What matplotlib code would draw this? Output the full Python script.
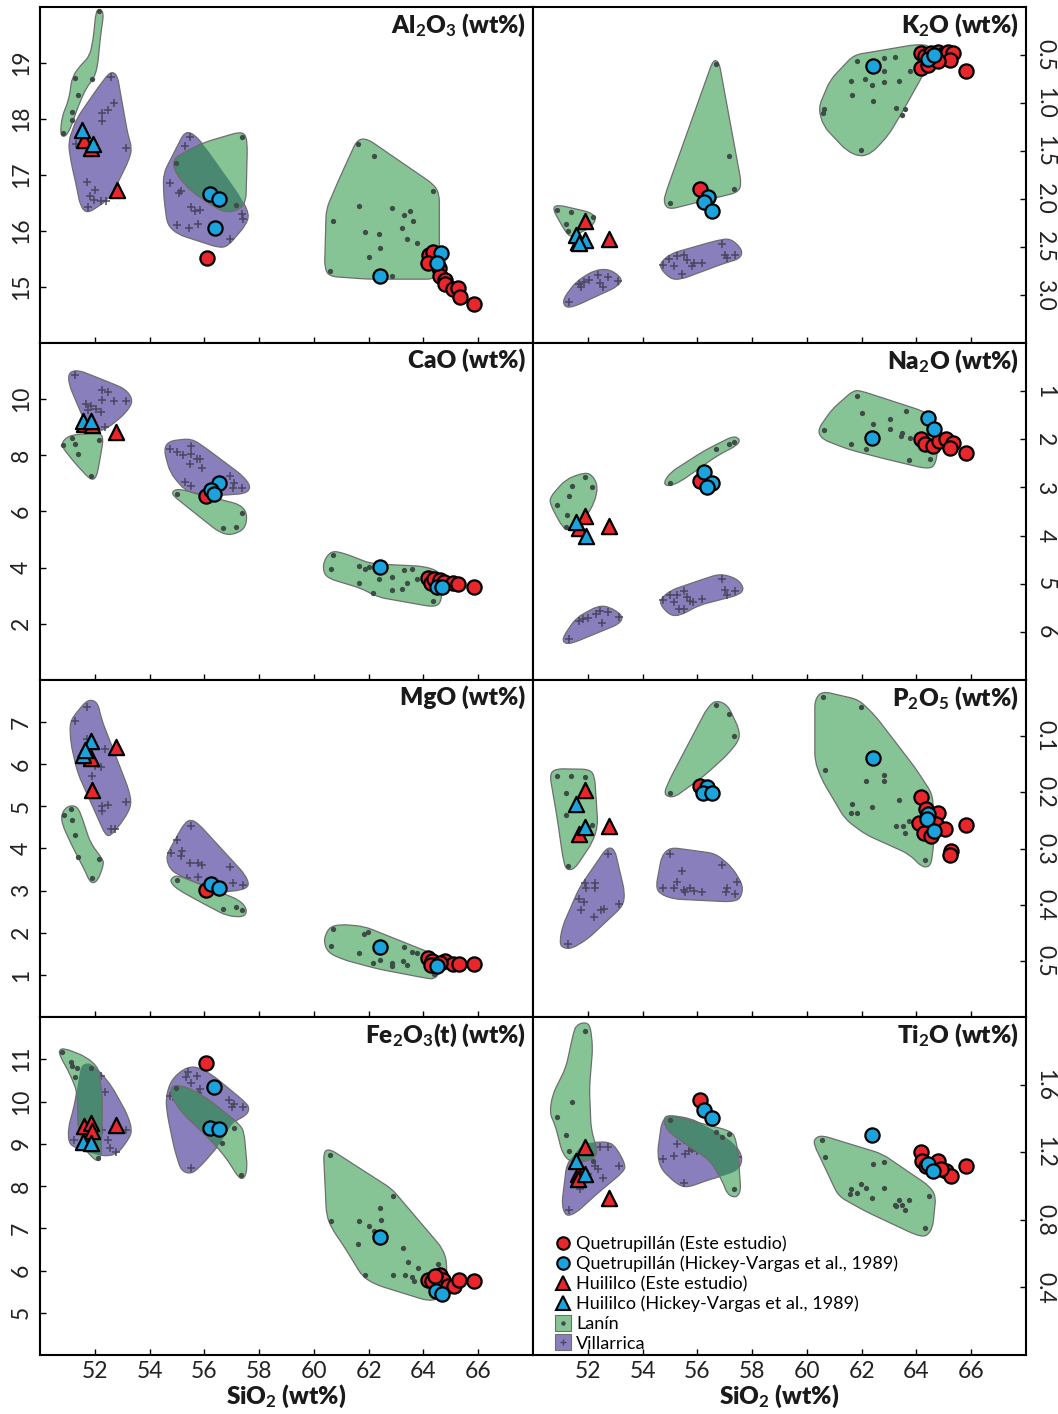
import numpy as np
import matplotlib
matplotlib.use('Agg')
import matplotlib.pyplot as plt
from matplotlib.path import Path
from matplotlib.patches import PathPatch
from matplotlib.lines import Line2D
from matplotlib.legend_handler import HandlerTuple

plt.rcParams['font.family'] = ['Lato', 'DejaVu Sans']
# math parts (subscripts) only appear in bold labels
plt.rcParams['mathtext.fontset'] = 'custom'
plt.rcParams['mathtext.rm'] = 'Lato:bold'
plt.rcParams['mathtext.it'] = 'Lato:bold'
plt.rcParams['mathtext.bf'] = 'Lato:bold'
plt.rcParams['mathtext.default'] = 'rm'

RED = '#e8262b'
BLUE = '#1aa3dc'
GREEN = '#86c495'
PURPLE = '#8a7fbd'
OVERLAP = '#4a8872'
EDGE = '#6e6e6e'

# ---------------- Al2O3 ----------------
al_lanin_fields = [
    [(50.74, 17.71), (50.80, 18.04), (51.05, 18.34), (51.18, 18.76), (51.50, 18.97), (51.81, 19.12),
     (51.94, 19.42), (52.04, 19.90), (52.15, 19.97), (52.33, 19.90), (52.21, 19.48), (52.10, 18.94),
     (51.97, 18.73), (51.68, 18.55), (51.34, 18.16), (51.14, 17.86), (50.93, 17.68)],
    [(54.84, 17.27), (55.28, 17.41), (56.04, 17.59), (57.30, 17.77), (57.52, 17.71), (57.57, 17.50),
     (57.52, 16.54), (57.30, 16.39), (56.86, 16.33), (56.42, 16.41), (55.53, 16.71), (54.96, 17.02)],
    [(60.45, 16.39), (60.95, 16.96), (61.58, 17.63), (61.94, 17.65), (64.38, 16.83), (64.58, 16.66),
     (64.58, 15.25), (64.38, 15.14), (61.96, 15.14), (60.57, 15.19), (60.39, 15.34)],
]
al_lanin = [(52.15, 19.92), (51.27, 18.73), (51.90, 18.72), (51.39, 18.43), (51.18, 18.13), (51.18, 17.98),
            (50.84, 17.75), (54.96, 17.22), (57.36, 17.68), (57.17, 16.46), (61.62, 17.55), (62.18, 17.34),
            (64.36, 16.72), (61.65, 16.45), (62.85, 16.41), (63.29, 16.29), (63.51, 16.36), (63.63, 16.18),
            (60.68, 16.18), (61.86, 15.98), (62.37, 15.95), (63.22, 16.06), (63.41, 15.86), (63.77, 15.79),
            (62.43, 15.69), (62.00, 15.53), (60.57, 15.29), (62.85, 15.20)]
al_villa_fields = [
    [(52.57, 18.85), (52.82, 18.79), (53.20, 17.74), (53.36, 17.47), (53.24, 17.26), (52.76, 16.78),
     (52.44, 16.54), (51.72, 16.31), (51.47, 16.45), (51.34, 16.78), (51.12, 17.26), (51.03, 17.59),
     (51.34, 18.01), (52.13, 18.57)],
    [(55.28, 17.77), (55.60, 17.74), (56.04, 17.50), (57.30, 16.63), (57.64, 16.30), (57.52, 16.11),
     (56.86, 15.73), (56.54, 15.70), (55.03, 15.94), (54.65, 16.11), (54.52, 16.60), (54.50, 17.02),
     (54.84, 17.35)],
]
al_villa = [(52.58, 18.75), (52.72, 18.29), (52.50, 18.16), (52.25, 18.11), (52.28, 17.97), (53.13, 17.49),
            (51.31, 17.55), (51.70, 16.87), (52.00, 16.73), (51.81, 16.63), (51.97, 16.55), (52.23, 16.54),
            (52.40, 16.53), (51.77, 16.43), (55.47, 17.68), (55.28, 17.52), (55.76, 17.25), (56.16, 17.08),
            (55.49, 17.02), (54.75, 16.86), (55.15, 16.72), (55.09, 16.67), (55.53, 16.43), (55.66, 16.35),
            (55.85, 16.37), (55.76, 16.13), (55.43, 16.06), (55.00, 16.11), (56.94, 15.86), (57.37, 16.31),
            (57.40, 16.21)]
al_qe = [(56.10, 15.52), (64.21, 15.58), (64.34, 15.62), (64.17, 15.43), (64.55, 15.34), (64.61, 15.20),
         (64.80, 15.13), (64.77, 15.05), (65.09, 14.96), (65.27, 14.98), (65.34, 14.83), (65.85, 14.69)]
al_qh = [(56.22, 16.66), (56.54, 16.58), (56.38, 16.05), (62.43, 15.20), (64.65, 15.61), (64.49, 15.43)]
al_he = [(51.60, 17.62), (51.88, 17.48), (52.80, 16.73)]
al_hh = [(51.53, 17.80), (51.92, 17.56)]

# ---------------- K2O ----------------
k_lanin_fields = [
    [(60.42, 1.05), (60.85, 0.76), (61.71, 0.50), (62.75, 0.45), (63.98, 0.39), (64.49, 0.40), (64.59, 0.52),
     (64.10, 0.78), (63.49, 1.09), (62.99, 1.33), (62.38, 1.52), (61.95, 1.56), (61.46, 1.50), (60.60, 1.24)],
    [(56.58, 0.55), (56.79, 0.57), (57.61, 1.84), (57.49, 1.93), (54.95, 2.11), (54.76, 2.03), (54.89, 1.90)],
    [(50.71, 2.10), (50.89, 2.06), (52.12, 2.14), (52.31, 2.21), (52.12, 2.29), (51.42, 2.40), (51.20, 2.35)],
]
k_lanin = [(61.83, 0.56), (62.81, 0.53), (63.22, 0.52), (63.77, 0.67), (61.62, 0.77), (62.13, 0.75),
           (62.36, 0.81), (62.81, 0.78), (63.36, 0.77), (62.81, 0.67), (61.64, 0.92), (62.41, 0.98),
           (60.64, 1.06), (60.60, 1.10), (63.24, 1.05), (63.58, 1.06), (63.49, 1.12), (61.99, 1.49),
           (56.68, 0.59), (57.14, 1.55), (57.34, 1.90), (54.99, 2.04), (50.86, 2.11), (51.40, 2.14),
           (52.18, 2.19), (51.20, 2.26), (51.26, 2.33)]
k_villa_fields = [
    [(51.08, 3.05), (51.57, 2.86), (52.25, 2.74), (52.80, 2.73), (53.27, 2.83), (53.10, 2.91), (51.51, 3.12),
     (51.18, 3.13)],
    [(54.56, 2.69), (55.01, 2.57), (56.73, 2.43), (57.22, 2.41), (57.65, 2.53), (57.57, 2.62), (56.98, 2.67),
     (55.38, 2.84), (54.99, 2.83)],
]
k_villa = [(51.30, 3.07), (51.69, 2.89), (51.88, 2.86), (52.06, 2.84), (52.37, 2.79), (52.43, 2.88),
           (52.74, 2.81), (53.11, 2.85), (51.75, 2.92), (52.55, 2.92), (54.76, 2.69), (55.13, 2.70),
           (54.95, 2.62), (55.26, 2.59), (55.50, 2.58), (55.62, 2.64), (55.81, 2.70), (55.89, 2.67),
           (56.18, 2.67), (55.44, 2.78), (56.91, 2.47), (57.00, 2.58), (57.37, 2.58), (57.10, 2.61)]
k_qe = [(56.09, 1.90), (64.16, 0.48), (64.32, 0.51), (64.53, 0.48), (64.78, 0.47), (64.99, 0.49),
        (65.17, 0.47), (65.35, 0.48), (65.23, 0.55), (64.16, 0.64), (64.41, 0.60), (64.78, 0.56), (65.80, 0.67)]
k_qh = [(56.40, 1.98), (56.24, 2.03), (56.55, 2.13), (62.41, 0.61), (64.44, 0.54), (64.65, 0.50)]
k_he = [(51.63, 2.45), (51.91, 2.23), (52.77, 2.42)]
k_hh = [(51.57, 2.37), (51.91, 2.43), (51.67, 2.46)]

# ---------------- CaO ----------------
ca_lanin_fields = [
    [(50.74, 8.39), (51.05, 8.71), (52.15, 8.81), (52.32, 8.63), (52.19, 7.86), (52.06, 7.20), (51.85, 7.12),
     (51.24, 7.76)],
    [(54.77, 6.64), (55.00, 6.82), (57.30, 6.25), (57.57, 5.93), (57.49, 5.38), (56.98, 5.15), (56.54, 5.26),
     (55.34, 6.19)],
    [(60.35, 4.23), (60.64, 4.60), (61.08, 4.52), (62.09, 4.14), (63.98, 4.05), (64.51, 3.90), (64.71, 3.60),
     (64.64, 2.74), (64.36, 2.60), (62.34, 2.95), (61.71, 3.27), (60.58, 3.60), (60.35, 3.81)],
]
ca_lanin = [(50.84, 8.36), (51.18, 8.61), (51.27, 8.42), (51.39, 8.05), (52.15, 8.55), (51.87, 7.26),
            (54.99, 6.64), (57.36, 5.95), (56.69, 5.42), (57.14, 5.45), (60.68, 4.44), (60.61, 3.95),
            (61.65, 4.07), (61.87, 3.95), (62.03, 4.01), (62.37, 3.60), (62.85, 3.67), (63.29, 3.93),
            (63.60, 3.95), (63.75, 3.60), (61.65, 3.45), (62.15, 3.10), (62.85, 3.19), (63.22, 3.24),
            (64.36, 2.80), (63.39, 3.45)]
ca_villa_fields = [
    [(51.05, 10.95), (51.39, 11.04), (52.25, 10.71), (53.13, 10.36), (53.41, 9.94), (53.13, 9.50), (52.50, 8.99),
     (52.03, 8.81), (51.77, 8.93), (51.50, 9.50), (51.05, 10.54)],
    [(54.52, 8.21), (54.71, 8.51), (55.53, 8.60), (56.04, 8.27), (57.42, 7.26), (57.70, 6.88), (57.52, 6.64),
     (56.54, 6.57), (55.78, 6.57), (55.28, 6.76), (54.75, 7.38)],
]
ca_villa = [(51.27, 10.86), (52.25, 10.33), (52.50, 10.27), (52.28, 9.96), (52.71, 9.94), (53.13, 9.94),
            (51.68, 9.82), (51.87, 9.76), (52.06, 9.64), (52.23, 9.55), (51.77, 9.60), (52.38, 9.01),
            (54.75, 8.21), (55.00, 8.12), (55.22, 8.02), (55.53, 8.33), (55.53, 8.04), (55.72, 7.88),
            (55.85, 7.88), (55.49, 7.69), (55.91, 7.56), (55.28, 7.05), (55.50, 6.90), (56.92, 7.26),
            (57.07, 7.00), (57.36, 6.85), (57.04, 6.85)]
ca_qe = [(56.07, 6.55), (64.17, 3.63), (64.26, 3.45), (64.38, 3.60), (64.59, 3.55), (64.76, 3.48),
         (65.09, 3.45), (65.27, 3.42), (65.85, 3.31)]
ca_qh = [(56.54, 7.00), (56.26, 6.75), (56.35, 6.62), (62.43, 4.01), (64.49, 3.31), (64.67, 3.31)]
ca_he = [(51.60, 9.10), (51.90, 9.07), (52.78, 8.83)]
ca_hh = [(51.56, 9.23), (51.87, 9.23)]

# ---------------- Na2O ----------------
na_lanin_fields = [
    [(60.39, 1.81), (60.91, 1.38), (61.71, 0.98), (62.01, 1.00), (64.22, 1.41), (64.69, 1.57), (64.78, 2.28),
     (64.65, 2.57), (64.35, 2.61), (62.87, 2.41), (61.52, 2.21), (60.56, 2.00)],
    [(54.76, 2.91), (55.01, 2.69), (56.24, 2.24), (57.32, 1.93), (57.56, 2.00), (57.47, 2.12), (56.73, 2.34),
     (55.38, 2.88), (54.95, 2.98)],
    [(50.61, 3.21), (51.20, 2.83), (51.88, 2.69), (52.16, 2.74), (52.37, 2.97), (52.25, 3.31), (51.88, 3.66),
     (51.32, 3.90), (51.08, 3.83), (50.65, 3.38)],
]
na_lanin = [(61.83, 1.10), (62.01, 1.46), (63.05, 1.57), (63.63, 1.41), (62.41, 1.69), (63.05, 1.79),
            (63.47, 1.86), (63.43, 1.94), (63.76, 1.97), (60.64, 1.81), (61.62, 2.09), (62.17, 2.21),
            (63.73, 2.43), (64.49, 2.41), (55.01, 2.90), (56.69, 2.21), (57.14, 2.09), (57.34, 2.06),
            (51.91, 2.79), (51.41, 2.98), (52.16, 3.00), (51.30, 3.17), (50.87, 3.36), (51.23, 3.57),
            (51.20, 3.83)]
na_villa_fields = [
    [(51.08, 6.12), (51.57, 5.71), (52.37, 5.46), (52.80, 5.48), (53.29, 5.67), (53.17, 5.83), (51.42, 6.24),
     (51.14, 6.24)],
    [(54.56, 5.37), (55.01, 5.14), (56.24, 4.90), (56.85, 4.79), (57.47, 4.90), (57.71, 5.10), (57.53, 5.23),
     (56.05, 5.45), (55.38, 5.66), (54.99, 5.66)],
]
na_villa = [(51.30, 6.14), (51.69, 5.78), (51.82, 5.74), (52.00, 5.72), (52.31, 5.62), (52.43, 5.57),
            (52.53, 5.81), (52.74, 5.59), (53.14, 5.70), (54.76, 5.34), (55.13, 5.39), (55.01, 5.24),
            (55.26, 5.23), (55.53, 5.15), (55.62, 5.28), (55.85, 5.38), (56.18, 5.32), (55.32, 5.53),
            (55.50, 5.53), (56.91, 4.91), (57.00, 5.14), (57.10, 5.24), (57.37, 5.16), (55.75, 5.35)]
na_qe = [(56.09, 2.86), (64.16, 2.00), (64.32, 2.10), (64.62, 2.14), (64.81, 2.03), (65.08, 2.00),
         (65.33, 2.08), (65.23, 2.19), (65.80, 2.28)]
na_qh = [(56.24, 2.68), (56.55, 2.90), (56.36, 3.00), (62.38, 1.97), (64.41, 1.55), (64.65, 1.79)]
na_he = [(51.67, 3.85), (51.91, 3.59), (52.77, 3.81)]
na_hh = [(51.57, 3.72), (51.94, 4.00)]

# ---------------- MgO ----------------
mg_lanin_fields = [
    [(50.78, 4.83), (51.03, 5.02), (51.37, 5.00), (51.56, 4.69), (51.84, 4.13), (52.25, 3.78), (52.34, 3.64),
     (52.10, 3.22), (51.85, 3.17), (51.62, 3.50), (51.18, 4.05), (50.81, 4.57)],
    [(54.77, 3.28), (55.00, 3.37), (56.04, 3.10), (57.30, 2.77), (57.57, 2.55), (57.45, 2.37), (56.82, 2.40),
     (55.91, 2.71), (55.05, 3.02), (54.80, 3.17)],
    [(60.35, 1.82), (60.55, 2.13), (60.98, 2.20), (61.84, 2.15), (64.23, 1.53), (64.61, 1.36), (64.58, 1.03),
     (64.38, 0.90), (64.11, 0.92), (62.34, 1.14), (61.08, 1.36), (60.51, 1.53)],
]
mg_lanin = [(50.88, 4.79), (51.15, 4.93), (51.18, 4.67), (51.27, 4.31), (51.39, 3.80), (52.15, 3.74),
            (51.90, 3.29), (55.00, 3.26), (56.69, 2.56), (57.14, 2.61), (57.36, 2.53), (60.68, 2.09),
            (60.61, 1.68), (61.84, 1.98), (61.99, 2.01), (61.65, 1.53), (62.15, 1.28), (62.43, 1.36),
            (62.85, 1.29), (62.85, 1.20), (63.29, 1.67), (63.58, 1.55), (63.77, 1.51), (63.39, 1.24),
            (63.26, 1.34), (64.38, 1.01)]
mg_villa_fields = [
    [(51.09, 7.00), (51.37, 7.26), (51.75, 7.54), (52.10, 7.48), (52.25, 7.06), (53.24, 5.40), (53.35, 5.04),
     (53.07, 4.69), (52.57, 4.29), (52.38, 4.33), (52.03, 4.84), (51.37, 5.80), (51.12, 6.51)],
    [(54.59, 3.81), (55.28, 4.61), (55.53, 4.69), (55.81, 4.57), (57.49, 3.38), (57.65, 3.12), (57.36, 3.01),
     (56.54, 2.96), (55.15, 3.34), (54.75, 3.50)],
]
mg_villa = [(51.72, 7.36), (51.27, 7.02), (51.72, 6.60), (51.62, 6.31), (51.81, 6.11), (52.00, 5.97),
            (52.23, 5.94), (51.90, 5.72), (52.38, 6.37), (52.25, 5.00), (52.48, 5.04), (52.28, 4.88),
            (53.13, 5.10), (52.61, 4.46), (52.73, 4.46), (55.53, 4.53), (55.00, 4.20), (54.79, 3.90),
            (55.19, 3.95), (55.15, 3.83), (55.47, 3.66), (55.76, 3.66), (55.91, 3.62), (56.92, 3.56),
            (55.38, 3.29), (55.76, 3.33), (57.04, 3.18), (57.42, 3.13)]
mg_qe = [(56.07, 3.01), (64.17, 1.40), (64.33, 1.32), (64.29, 1.24), (64.80, 1.32), (65.09, 1.26),
         (65.28, 1.26), (65.85, 1.26), (64.61, 1.29)]
mg_qh = [(56.26, 3.16), (56.54, 3.06), (62.43, 1.65), (64.49, 1.22)]
mg_he = [(51.85, 6.15), (52.78, 6.41), (51.90, 5.40)]
mg_hh = [(51.87, 6.55), (51.56, 6.23), (51.65, 6.35)]

# ---------------- P2O5 ----------------
p_lanin_fields = [
    [(60.29, 0.035), (60.56, 0.020), (61.89, 0.035), (62.50, 0.064), (63.98, 0.158), (64.59, 0.204),
     (64.65, 0.284), (64.53, 0.331), (64.22, 0.334), (63.73, 0.310), (62.14, 0.275), (61.40, 0.248),
     (60.54, 0.177), (60.29, 0.144)],
    [(54.76, 0.204), (54.99, 0.177), (56.36, 0.050), (56.67, 0.036), (57.10, 0.044), (57.53, 0.088),
     (57.53, 0.107), (57.10, 0.133), (56.24, 0.171), (55.13, 0.210)],
    [(50.61, 0.168), (50.83, 0.158), (52.06, 0.159), (52.25, 0.171), (52.37, 0.260), (52.16, 0.290),
     (51.51, 0.337), (51.20, 0.338), (51.08, 0.313), (50.89, 0.248)],
]
p_lanin = [(60.58, 0.030), (61.98, 0.048), (60.66, 0.160), (62.41, 0.147), (62.81, 0.170), (62.81, 0.180),
           (62.14, 0.180), (61.64, 0.220), (62.36, 0.226), (61.62, 0.237), (61.83, 0.237), (63.36, 0.214),
           (63.73, 0.251), (63.24, 0.260), (63.51, 0.260), (63.58, 0.272), (64.32, 0.320), (56.68, 0.045),
           (57.14, 0.060), (57.34, 0.100), (54.99, 0.201), (50.86, 0.171), (51.40, 0.171), (51.90, 0.173),
           (51.20, 0.202), (51.20, 0.240), (52.15, 0.259), (51.29, 0.331)]
p_villa_fields = [
    [(50.98, 0.464), (51.08, 0.438), (51.69, 0.370), (52.70, 0.298), (52.98, 0.301), (53.35, 0.378),
     (53.29, 0.402), (52.00, 0.461), (51.39, 0.479), (51.04, 0.476)],
    [(54.49, 0.368), (54.70, 0.313), (55.01, 0.298), (56.67, 0.309), (57.28, 0.334), (57.68, 0.367),
     (57.57, 0.390), (57.22, 0.395), (55.13, 0.390), (54.64, 0.381)],
]
p_villa = [(52.74, 0.310), (51.91, 0.362), (52.25, 0.361), (51.94, 0.370), (52.25, 0.371), (51.69, 0.390),
           (51.87, 0.395), (51.75, 0.410), (52.47, 0.409), (52.58, 0.408), (52.21, 0.422), (53.13, 0.399),
           (51.29, 0.470), (54.99, 0.310), (55.44, 0.340), (55.26, 0.359), (54.76, 0.370), (55.13, 0.371),
           (55.50, 0.373), (55.72, 0.370), (55.87, 0.375), (55.56, 0.378), (56.18, 0.377), (56.91, 0.330),
           (57.44, 0.359), (57.07, 0.370), (57.37, 0.381), (57.04, 0.378)]
p_qe = [(56.09, 0.188), (64.16, 0.208), (64.35, 0.229), (64.78, 0.237), (64.10, 0.255), (64.28, 0.272),
        (64.71, 0.257), (65.06, 0.266), (65.80, 0.258), (65.27, 0.304), (65.21, 0.311), (64.53, 0.277)]
p_qh = [(56.36, 0.190), (56.21, 0.201), (56.55, 0.201), (62.41, 0.139), (64.44, 0.239), (64.40, 0.248),
        (64.65, 0.269)]
p_he = [(51.91, 0.195), (52.77, 0.260), (51.67, 0.275)]
p_hh = [(51.57, 0.221), (51.91, 0.261)]

# ---------------- Fe2O3(t) ----------------
fe_lanin_fields = [
    [(50.69, 11.22), (50.89, 11.26), (51.68, 11.06), (52.15, 10.79), (52.28, 10.00), (52.25, 9.29),
     (52.23, 8.70), (52.10, 8.58), (51.87, 8.70), (51.68, 8.85), (51.39, 9.37), (51.36, 10.23),
     (51.05, 10.71), (50.74, 11.06)],
    [(54.77, 10.30), (54.96, 10.40), (55.59, 10.28), (56.29, 9.98), (57.30, 9.45), (57.45, 9.27),
     (57.57, 8.42), (57.46, 8.18), (57.27, 8.18), (56.80, 8.66), (56.29, 9.05), (55.15, 9.76), (54.81, 10.11)],
    [(60.35, 8.80), (60.57, 8.88), (62.85, 7.93), (63.19, 7.67), (64.70, 6.52), (64.87, 6.17), (64.80, 5.74),
     (64.55, 5.33), (64.17, 5.28), (62.28, 5.66), (61.78, 5.85), (61.15, 6.52), (60.65, 7.00), (60.46, 7.31)],
]
fe_lanin = [(50.79, 11.17), (51.13, 10.94), (51.17, 10.85), (51.34, 10.80), (51.26, 10.59), (51.85, 10.80),
            (52.13, 8.67), (54.96, 10.31), (57.10, 9.37), (56.66, 9.02), (57.33, 8.26), (60.57, 8.73),
            (62.88, 7.76), (62.40, 7.47), (62.46, 7.20), (60.64, 7.18), (61.66, 7.17), (62.00, 7.05),
            (62.20, 6.93), (61.61, 6.63), (63.26, 6.54), (63.42, 6.19), (63.80, 6.07), (64.52, 6.15),
            (61.88, 5.90), (62.88, 5.90), (63.31, 5.90), (63.60, 5.84), (63.66, 5.76)]
fe_villa_fields = [
    [(51.50, 10.87), (51.85, 10.92), (52.23, 10.67), (52.63, 10.35), (53.20, 9.68), (53.36, 9.33),
     (53.26, 9.13), (52.82, 8.75), (52.25, 8.70), (51.34, 8.89), (51.05, 9.01), (51.03, 9.37), (51.26, 9.92)],
    [(54.59, 10.09), (54.79, 10.51), (55.28, 10.79), (55.72, 10.83), (56.29, 10.63), (57.45, 10.01),
     (57.65, 9.86), (57.55, 9.68), (57.04, 9.51), (56.54, 8.97), (55.91, 8.50), (55.53, 8.28),
     (55.15, 8.36), (54.90, 8.89), (54.65, 9.68)],
]
fe_villa = [(51.85, 10.69), (52.00, 10.63), (52.23, 10.61), (52.00, 10.53), (52.38, 10.22), (51.90, 9.70),
            (51.24, 9.09), (52.48, 9.09), (52.57, 8.89), (52.76, 8.81), (53.13, 9.33), (52.25, 9.33),
            (51.68, 10.04), (55.40, 10.70), (55.72, 10.61), (55.34, 10.57), (55.53, 10.44), (55.85, 10.29),
            (55.78, 10.21), (54.74, 10.12), (54.96, 10.04), (55.25, 9.98), (55.50, 9.60), (56.89, 10.04),
            (57.07, 9.93), (57.02, 9.88), (57.42, 9.88), (55.50, 8.42)]
fe_qe = [(56.07, 10.92), (64.17, 5.78), (64.33, 5.74), (64.61, 5.89), (64.73, 5.78), (64.90, 5.64),
         (65.11, 5.64), (65.28, 5.78), (65.85, 5.74), (64.42, 5.88)]
fe_qh = [(56.35, 10.35), (56.22, 9.37), (56.54, 9.36), (62.43, 6.80), (64.47, 5.51), (64.68, 5.44)]
fe_he = [(51.62, 9.42), (51.85, 9.48), (51.90, 9.29), (52.78, 9.45)]
fe_hh = [(51.56, 9.03), (51.87, 9.01)]

# ---------------- TiO2 ----------------
ti_lanin_fields = [
    [(51.57, 1.95), (51.88, 1.97), (52.09, 1.95), (52.18, 1.82), (52.06, 1.58), (52.12, 1.34), (52.37, 1.19),
     (52.06, 1.15), (51.39, 1.14), (51.08, 1.19), (50.81, 1.36), (50.61, 1.43), (50.71, 1.54), (51.20, 1.70),
     (51.47, 1.90)],
    [(54.76, 1.40), (54.95, 1.42), (57.12, 1.33), (57.37, 1.30), (57.49, 1.19), (57.59, 0.97), (57.41, 0.93),
     (57.10, 0.95), (56.91, 1.03), (56.48, 1.15), (55.38, 1.27), (54.89, 1.33)],
    [(60.27, 1.28), (60.54, 1.30), (62.75, 1.19), (64.47, 1.00), (64.71, 0.94), (64.59, 0.75), (64.35, 0.70),
     (63.98, 0.71), (62.14, 0.85), (61.15, 0.94), (60.54, 1.15), (60.27, 1.24)],
]
ti_lanin = [(51.90, 1.92), (51.41, 1.50), (50.87, 1.41), (51.20, 1.30), (51.30, 1.21), (52.18, 1.15),
            (54.99, 1.39), (56.69, 1.32), (57.14, 1.31), (57.34, 0.98), (56.91, 1.29), (60.56, 1.27),
            (60.66, 1.17), (62.41, 1.13), (62.81, 1.14), (61.62, 0.98), (61.58, 0.95), (61.83, 0.96),
            (61.99, 1.01), (62.14, 0.99), (62.36, 0.93), (62.81, 0.99), (63.20, 0.89), (63.36, 0.92),
            (63.49, 0.89), (63.58, 0.86), (63.73, 0.92), (63.24, 0.88), (64.47, 0.94), (64.32, 0.75)]
ti_villa_fields = [
    [(51.05, 0.89), (51.23, 1.13), (51.82, 1.25), (52.31, 1.26), (52.80, 1.26), (53.07, 1.22), (53.39, 1.12),
     (53.27, 1.08), (52.31, 0.95), (51.57, 0.84), (51.20, 0.82)],
    [(54.54, 1.19), (54.70, 1.38), (54.95, 1.42), (55.75, 1.40), (56.73, 1.32), (57.37, 1.25), (57.66, 1.17),
     (57.53, 1.10), (57.16, 1.07), (56.48, 1.04), (55.62, 0.99), (55.26, 1.01), (54.67, 1.10)],
]
ti_villa = [(52.43, 1.23), (52.74, 1.23), (51.75, 1.15), (52.28, 1.12), (52.37, 1.10), (52.55, 1.05),
            (53.14, 1.12), (51.72, 0.98), (51.30, 0.86), (52.00, 1.07), (51.69, 1.03), (54.74, 1.16),
            (55.13, 1.18), (55.26, 1.25), (55.50, 1.27), (55.69, 1.21), (55.81, 1.22), (55.85, 1.24),
            (55.97, 1.21), (56.18, 1.23), (55.56, 1.19), (55.50, 1.02), (57.04, 1.19), (57.47, 1.17),
            (55.44, 1.32)]
ti_qe = [(56.09, 1.51), (64.16, 1.20), (64.22, 1.15), (64.78, 1.15), (65.08, 1.09), (65.27, 1.06),
         (65.80, 1.12), (64.35, 1.12), (64.90, 1.10)]
ti_qh = [(56.24, 1.45), (56.55, 1.40), (62.38, 1.30), (64.41, 1.13), (64.59, 1.09)]
ti_he = [(51.91, 1.23), (51.66, 1.07), (51.66, 1.04), (52.77, 0.93)]
ti_hh = [(51.57, 1.15), (51.91, 1.07)]

# panel table: title, y-limits, y-ticks, tick format, side, data
panels = [
    ('Al$_2$O$_3$ (wt%)', (14, 20), [15, 16, 17, 18, 19], '{:.0f}', 'left',
     al_lanin_fields, al_lanin, al_villa_fields, al_villa, al_qe, al_qh, al_he, al_hh),
    ('K$_2$O (wt%)', (3.5, 0), [0.5, 1.0, 1.5, 2.0, 2.5, 3.0], '{:.1f}', 'right',
     k_lanin_fields, k_lanin, k_villa_fields, k_villa, k_qe, k_qh, k_he, k_hh),
    ('CaO (wt%)', (0, 12), [2, 4, 6, 8, 10], '{:.0f}', 'left',
     ca_lanin_fields, ca_lanin, ca_villa_fields, ca_villa, ca_qe, ca_qh, ca_he, ca_hh),
    ('Na$_2$O (wt%)', (7, 0), [1, 2, 3, 4, 5, 6], '{:.0f}', 'right',
     na_lanin_fields, na_lanin, na_villa_fields, na_villa, na_qe, na_qh, na_he, na_hh),
    ('MgO (wt%)', (0, 8), [1, 2, 3, 4, 5, 6, 7], '{:.0f}', 'left',
     mg_lanin_fields, mg_lanin, mg_villa_fields, mg_villa, mg_qe, mg_qh, mg_he, mg_hh),
    ('P$_2$O$_5$ (wt%)', (0.6, 0), [0.1, 0.2, 0.3, 0.4, 0.5], '{:.1f}', 'right',
     p_lanin_fields, p_lanin, p_villa_fields, p_villa, p_qe, p_qh, p_he, p_hh),
    ('Fe$_2$O$_3$(t) (wt%)', (4, 12), [5, 6, 7, 8, 9, 10, 11], '{:.0f}', 'left',
     fe_lanin_fields, fe_lanin, fe_villa_fields, fe_villa, fe_qe, fe_qh, fe_he, fe_hh),
    ('Ti$_2$O (wt%)', (0, 2), [0.4, 0.8, 1.2, 1.6], '{:.1f}', 'right',
     ti_lanin_fields, ti_lanin, ti_villa_fields, ti_villa, ti_qe, ti_qh, ti_he, ti_hh),
]

x_ticks = [52, 54, 56, 58, 60, 62, 64, 66]


def rounded_path(ax, pts, r=8.0):
    # polygon with rounded corners, radius in screen pixels
    disp = ax.transData.transform(np.asarray(pts, float))
    n = len(disp)
    verts, codes = [], []
    for i in range(n):
        p0, p1, p2 = disp[i - 1], disp[i], disp[(i + 1) % n]
        d0, d2 = p0 - p1, p2 - p1
        l0, l2 = np.hypot(*d0), np.hypot(*d2)
        a = p1 + d0 / l0 * min(r, l0 * 0.45)
        b = p1 + d2 / l2 * min(r, l2 * 0.45)
        verts += [a, p1, b]
        codes += [Path.LINETO, Path.CURVE3, Path.CURVE3]
    codes[0] = Path.MOVETO
    verts.append(verts[0])
    codes.append(Path.CLOSEPOLY)
    return Path(ax.transData.inverted().transform(np.array(verts)), codes)


W, H = 1058, 1414
fig = plt.figure(figsize=(W / 100, H / 100), dpi=100)
fig.patch.set_facecolor('white')

col_x = [40, 533]
row_y = [7, 343, 680, 1017, 1355]
pw = 493

for k, (title, ylim, yticks, fmt, side, lf, lp, vf, vp, qe, qh, he, hh) in enumerate(panels):
    r, c = divmod(k, 2)
    top, bot = row_y[r], row_y[r + 1]
    ax = fig.add_axes([col_x[c] / W, 1 - bot / H, pw / W, (bot - top) / H])
    ax.set_xlim(50, 68)
    ax.set_ylim(*ylim)

    vpatches = []
    for f in vf:
        p = PathPatch(rounded_path(ax, f), fc=PURPLE, ec=EDGE, lw=0.9, zorder=1)
        ax.add_patch(p)
        vpatches.append(p)
    vx, vy = zip(*vp)
    ax.plot(vx, vy, ls='', marker='+', ms=5.5, mew=1.1, color='#4a4760', zorder=2)

    for f in lf:
        path = rounded_path(ax, f)
        ax.add_patch(PathPatch(path, fc=GREEN, ec=EDGE, lw=0.9, zorder=3))
        for vpatch in vpatches:
            ov = PathPatch(path, fc=OVERLAP, ec=EDGE, lw=0.9, zorder=3.5)
            ax.add_patch(ov)
            ov.set_clip_path(vpatch)
    lx, ly = zip(*lp)
    ax.plot(lx, ly, ls='', marker='o', ms=3.8, mew=0, color='#3e4b46', zorder=4)

    for pts, mk, col in [(he, '^', RED), (hh, '^', BLUE), (qe, 'o', RED), (qh, 'o', BLUE)]:
        px, py = zip(*pts)
        ax.scatter(px, py, s=105 if mk == 'o' else 120, marker=mk, c=col, edgecolors='black',
                   linewidths=1.6, zorder=5)

    ax.text(0.985, 0.985, title, transform=ax.transAxes, ha='right', va='top',
            fontsize=17.5, fontweight='heavy', color='#1a1a1a', zorder=6)

    for s in ax.spines.values():
        s.set_linewidth(1.5)
    ax.set_xticks(x_ticks)
    ax.tick_params(axis='x', direction='in', length=4, width=1, top=False)
    ax.set_yticks(yticks)
    ax.set_yticklabels([fmt.format(v) for v in yticks])
    if side == 'right':
        ax.yaxis.tick_right()
        ax.tick_params(axis='y', direction='in', length=4, width=1, labelsize=16.5, pad=6)
        plt.setp(ax.get_yticklabels(), rotation=-90, va='center', ha='left', color='#222222')
    else:
        ax.tick_params(axis='y', direction='in', length=4, width=1, labelsize=16.5, pad=6)
        plt.setp(ax.get_yticklabels(), rotation=90, va='center', ha='right', color='#222222')

    if r == 3:
        ax.tick_params(axis='x', labelsize=16.5, pad=4, labelcolor='#222222')
        ax.set_xlabel('SiO$_2$ (wt%)', fontsize=17.5, fontweight='heavy', labelpad=1, color='#1a1a1a')
    else:
        ax.tick_params(axis='x', labelbottom=False)

    if k == 7:
        handles = [
            Line2D([], [], ls='', marker='o', ms=9, mfc=RED, mec='black', mew=1.5),
            Line2D([], [], ls='', marker='o', ms=9, mfc=BLUE, mec='black', mew=1.5),
            Line2D([], [], ls='', marker='^', ms=9.5, mfc=RED, mec='black', mew=1.5),
            Line2D([], [], ls='', marker='^', ms=9.5, mfc=BLUE, mec='black', mew=1.5),
            (Line2D([], [], ls='', marker='s', ms=11, mfc=GREEN, mec=EDGE, mew=0.8),
             Line2D([], [], ls='', marker='o', ms=3.2, mfc='#3e4b46', mew=0)),
            (Line2D([], [], ls='', marker='s', ms=11, mfc=PURPLE, mec=EDGE, mew=0.8),
             Line2D([], [], ls='', marker='+', ms=5, mec='#4a4760', mew=1.0)),
        ]
        labels = ['Quetrupillán (Este estudio)', 'Quetrupillán (Hickey-Vargas et al., 1989)',
                  'Huililco (Este estudio)', 'Huililco (Hickey-Vargas et al., 1989)',
                  'Lanín', 'Villarrica']
        ax.legend(handles, labels, loc='lower left', bbox_to_anchor=(0.04, 0.005), frameon=False,
                  fontsize=13, handlelength=0.9, handletextpad=0.3, labelspacing=0.2,
                  borderpad=0.1, borderaxespad=0, handler_map={tuple: HandlerTuple(ndivide=1, pad=0)})

fig.savefig('out.png', dpi=100, facecolor='white')
